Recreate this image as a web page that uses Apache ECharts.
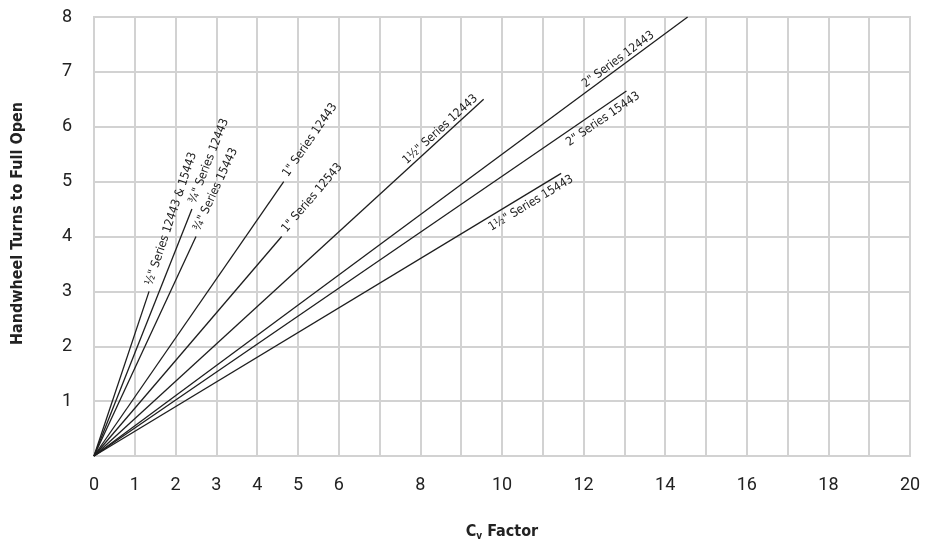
<!DOCTYPE html>
<html>
<head>
<meta charset="utf-8">
<script src="https://cdn.jsdelivr.net/npm/echarts@6/dist/echarts.min.js"></script>
<style>
  html, body { margin: 0; padding: 0; background: #fff; }
  #chart { width: 925px; height: 546px; }
</style>
</head>
<body>
<div id="chart"></div>
<script>
// ---- Data ----
const seriesNames = [
  '½" Series 12443 & 15443',
  '¾" Series 12443',
  '¾" Series 15443',
  '1" Series 12443',
  '1" Series 12543',
  '1½" Series 12443',
  '2" Series 12443',
  '2" Series 15443',
  '1½" Series 15443'
];
const startCv    = [0, 0, 0, 0, 0, 0, 0, 0, 0];
const startTurns = [0, 0, 0, 0, 0, 0, 0, 0, 0];
const endCv      = [1.35, 2.4, 2.5, 4.65, 4.6, 9.55, 14.55, 13.05, 11.45];
const endTurns   = [3.0, 4.5, 4.0, 5.0, 4.0, 6.5, 8.0, 6.65, 5.15];
const xTickValues = [0, 1, 2, 3, 4, 5, 6, 8, 10, 12, 14, 16, 18, 20];
const yTickValues = [1, 2, 3, 4, 5, 6, 7, 8];

// ---- label placement (style) ----
const labelPlacement = ['beyond','beyond','beyond','beyond','beyond','above','above','below','below'];
const labelBack = [0, 0, 0, 0, 0, 4, 38, -8, -7];

const FONT = "'Liberation Sans Narrow', 'DejaVu Sans Condensed', 'Roboto', sans-serif";
const TICK_FONT = "'Roboto', 'Liberation Sans', sans-serif";
const GRID_COLOR = '#d2d2d2';
const LINE_COLOR = '#1e1e1e';

const chart = echarts.init(document.getElementById('chart'));

function labelFor(i, rot) {
  const p = labelPlacement[i];
  const base = {
    show: true,
    position: 'inside',
    formatter: '{a}',
    color: '#222',
    fontFamily: FONT,
    fontSize: 12,
    rotate: rot
  };
  if (p === 'beyond') {
    return Object.assign(base, { align: 'left', verticalAlign: 'middle', offset: [6, -2] });
  } else if (p === 'above') {
    return Object.assign(base, { align: 'right', verticalAlign: 'bottom', offset: [-labelBack[i], -1] });
  } else {
    return Object.assign(base, { align: 'right', verticalAlign: 'top', offset: [-labelBack[i], 4] });
  }
}

function buildSeries(rots) {
  return seriesNames.map((name, i) => ({
    name: name,
    type: 'line',
    symbol: 'circle',
    symbolSize: 0.1,
    silent: true,
    animation: false,
    itemStyle: { color: 'rgba(0,0,0,0)' },
    lineStyle: { color: LINE_COLOR, width: 1.3 },
    label: { show: false },
    data: [
      [startCv[i], startTurns[i]],
      { value: [endCv[i], endTurns[i]], label: labelFor(i, rots ? rots[i] : 0) }
    ]
  }));
}

const option = {
  animation: false,
  grid: {
    left: 94, right: 15, top: 17, bottom: 90,
    show: true, borderColor: GRID_COLOR, borderWidth: 2, containLabel: false
  },
  xAxis: {
    type: 'value',
    min: 0, max: 20, interval: 1,
    name: 'C{sub|v} Factor',
    nameLocation: 'middle',
    nameGap: 66,
    nameTextStyle: {
      fontFamily: FONT, fontWeight: 'bold', fontSize: 16, color: '#222',
      rich: {
        sub: { fontFamily: FONT, fontWeight: 'bold', fontSize: 10, color: '#222', padding: [9, 0, 0, 0] }
      }
    },
    axisLine: { show: false },
    axisTick: { show: false },
    axisLabel: {
      margin: 20,
      fontFamily: TICK_FONT, fontSize: 18, color: '#222',
      formatter: v => (xTickValues.indexOf(v) >= 0 ? String(v) : '')
    },
    splitLine: { show: true, lineStyle: { color: GRID_COLOR, width: 2 } }
  },
  yAxis: {
    type: 'value',
    min: 0, max: 8, interval: 1,
    name: 'Handwheel Turns to Full Open',
    nameLocation: 'middle',
    nameGap: 68,
    nameTextStyle: { fontFamily: FONT, fontWeight: 'bold', fontSize: 16, color: '#222', padding: [0, 0, 0, 26] },
    axisLine: { show: false },
    axisTick: { show: false },
    axisLabel: {
      margin: 22,
      fontFamily: TICK_FONT, fontSize: 18, color: '#222',
      formatter: v => (yTickValues.indexOf(v) >= 0 ? String(v) : '')
    },
    splitLine: { show: true, lineStyle: { color: GRID_COLOR, width: 2 } }
  },
  series: buildSeries(null)
};

chart.setOption(option);

// compute on-screen angles of each line through the chart's own scales
const rots = seriesNames.map((n, i) => {
  const a = chart.convertToPixel({ gridIndex: 0 }, [startCv[i], startTurns[i]]);
  const b = chart.convertToPixel({ gridIndex: 0 }, [endCv[i], endTurns[i]]);
  return Math.atan2(a[1] - b[1], b[0] - a[0]) * 180 / Math.PI;
});
chart.setOption({ series: buildSeries(rots) });
</script>
</body>
</html>
